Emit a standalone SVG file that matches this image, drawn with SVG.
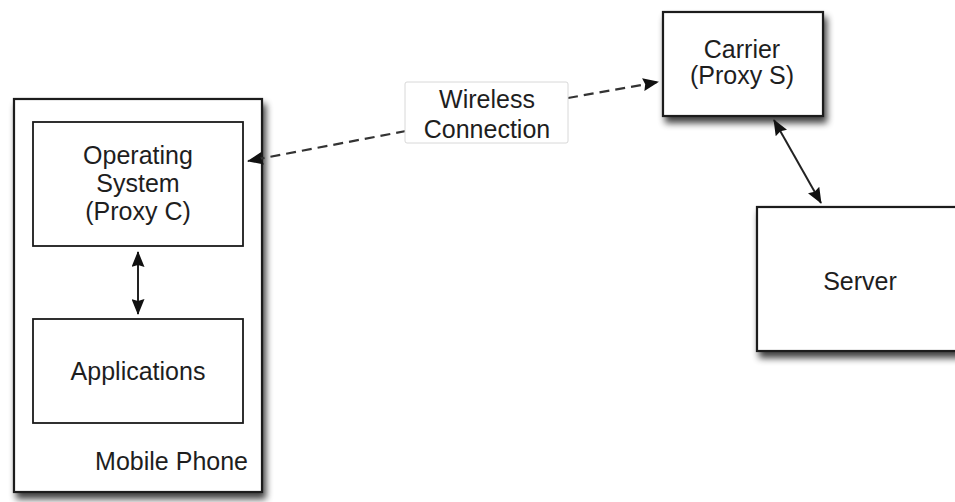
<svg xmlns="http://www.w3.org/2000/svg" width="955" height="502" viewBox="0 0 955 502">
<defs>
<filter id="shadow" x="-10%" y="-10%" width="130%" height="130%">
<feGaussianBlur in="SourceAlpha" stdDeviation="3.5"/>
<feOffset dx="3" dy="6" result="b"/>
<feComponentTransfer><feFuncA type="linear" slope="0.75"/></feComponentTransfer>
<feMerge><feMergeNode/><feMergeNode in="SourceGraphic"/></feMerge>
</filter>
<marker id="ah" viewBox="0 0 16 13" refX="15" refY="6.5" markerWidth="16" markerHeight="13" markerUnits="userSpaceOnUse" orient="auto-start-reverse">
<path d="M0,0 L16,6.5 L0,13 L2,6.5 Z" fill="#111"/>
</marker>
</defs>
<style>
.box{fill:#fff;stroke:#1a1a1a;stroke-width:2.2}
.inner{fill:#fff;stroke:#1a1a1a;stroke-width:1.8}
.lbl{fill:#fff;stroke:#d8d8d8;stroke-width:1}
text{font-family:"Liberation Sans",Arial,Helvetica,sans-serif;font-size:25px;fill:#1e1e1e}
.c{text-anchor:middle}
.solid{fill:none;stroke:#222;stroke-width:2}
.dash{fill:none;stroke:#333;stroke-width:2.2;stroke-dasharray:10 6}
</style>
<rect width="955" height="502" fill="#fff"/>
<g id="mobile-phone">
<rect class="box" x="14" y="99" width="248" height="393" filter="url(#shadow)"/>
<text x="248" y="470" text-anchor="end">Mobile Phone</text>
</g>
<g id="operating-system">
<rect class="inner" x="33" y="122" width="210" height="124"/>
<text class="c" x="138" y="164">Operating</text>
<text class="c" x="138" y="192">System</text>
<text class="c" x="138" y="220">(Proxy C)</text>
</g>
<g id="applications">
<rect class="inner" x="33" y="319" width="210" height="104"/>
<text class="c" x="138" y="380">Applications</text>
</g>
<g id="carrier">
<rect class="box" x="663" y="12" width="160" height="104" filter="url(#shadow)"/>
<text class="c" x="742" y="58">Carrier</text>
<text class="c" x="742" y="84">(Proxy S)</text>
</g>
<g id="server">
<rect class="box" x="757" y="207" width="210" height="144" filter="url(#shadow)"/>
<text class="c" x="860" y="290">Server</text>
</g>
<g id="connectors">
<line class="solid" x1="138" y1="252" x2="138" y2="314" marker-start="url(#ah)" marker-end="url(#ah)"/>
<line class="solid" x1="774" y1="120" x2="821" y2="203" marker-start="url(#ah)" marker-end="url(#ah)"/>
<path class="dash" d="M406,131 L248,161" marker-end="url(#ah)"/>
<path class="dash" d="M568,98 L658,82" marker-end="url(#ah)"/>
</g>
<g id="wireless-label">
<rect class="lbl" x="405" y="82" width="163" height="61" rx="2"/>
<text class="c" x="487" y="108">Wireless</text>
<text class="c" x="487" y="138">Connection</text>
</g>
</svg>
